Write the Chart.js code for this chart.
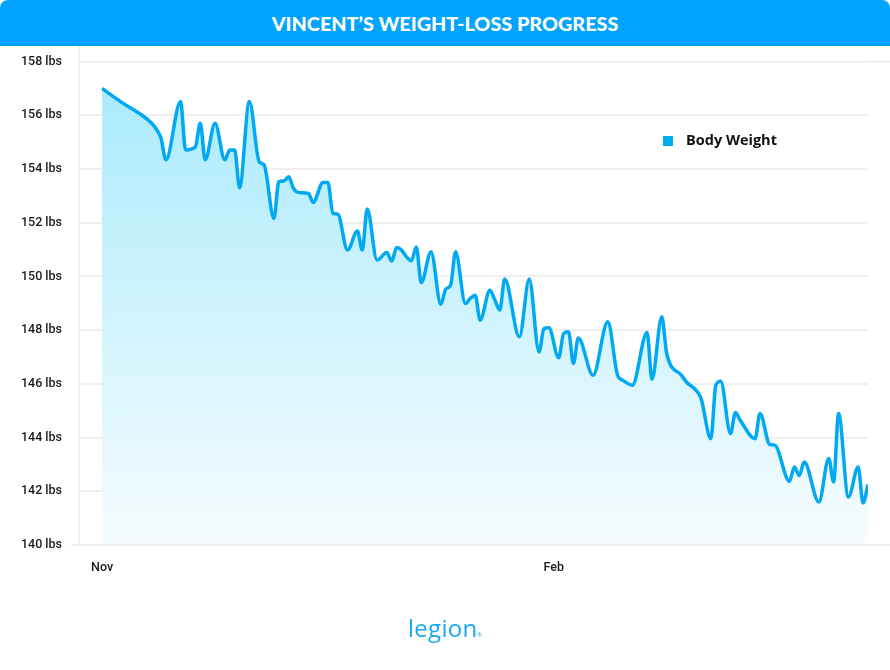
<!DOCTYPE html>
<html>
<head>
    <title>Vincent's Weight-Loss Progress</title>
    <script src="https://cdn.jsdelivr.net/npm/chart.js"></script>
    <style>
        body { margin: 0; background: #fff; }
        #wrap { position: relative; width: 890px; height: 670px; }
        #header {
            position: absolute; left: 0; top: 0; width: 890px; height: 46px;
            background: #00a4fe; border-radius: 8px 8px 0 0;
            color: #fff; font-family: Lato, sans-serif; font-weight: 900;
            font-size: 19.8px; line-height: 46px; text-align: center;
        }
        #logo {
            position: absolute; left: 0; top: 611px; width: 890px; text-align: center;
            font-family: "Open Sans", sans-serif; font-size: 24px; color: #1aa7f2;
            letter-spacing: 0.3px;
        }
        #logo sup { font-size: 5px; vertical-align: 0; }
        canvas { position: absolute; left: 0; top: 0; }
    </style>
</head>
<body>
    <div id="wrap">
        <canvas id="weightChart" width="890" height="670"></canvas>
        <div id="header">VINCENT’S WEIGHT-LOSS PROGRESS</div>
        <div id="logo">legion<sup>®</sup></div>
    </div>

    <script>
        // days since Nov 1 and the weight read for that day
        const days = [0, 4, 8, 10, 11, 12, 13, 16, 17, 19, 20, 21, 23, 25, 26, 27, 28, 30, 32, 33, 35,
            36, 37, 38, 39, 40, 42, 43, 45, 46, 47, 48, 50, 52, 53, 54, 56, 58, 59, 60, 61,
            62, 63, 64, 65, 67, 69, 70, 71, 72, 74, 75, 76, 77, 79, 80, 81, 82, 85, 87, 89,
            90, 91, 93, 94, 95, 96, 97, 100, 103, 105, 106, 108, 111, 112, 114, 115, 118, 119, 121, 122,
            124, 125, 126, 128, 129, 130, 133, 134, 136, 137, 140, 141, 142, 143, 146, 148, 149, 150, 152, 154,
            155, 156];
        const weights = [157.0, 156.48, 156.02, 155.72, 155.5, 155.15, 154.34, 156.51, 154.71, 154.83, 155.7, 154.34, 155.7, 154.34, 154.71, 154.71, 153.3, 156.51, 154.27, 154.15, 152.16,
            153.53, 153.55, 153.71, 153.28, 153.13, 153.09, 152.76, 153.5, 153.5, 152.35, 152.32, 150.98, 151.69, 150.98, 152.51, 150.61, 150.89, 150.57, 151.08, 150.98,
            150.73, 150.58, 151.1, 149.77, 150.92, 148.96, 149.53, 149.68, 150.92, 148.99, 149.18, 149.3, 148.37, 149.49, 149.12, 148.75, 149.9, 147.75, 149.9, 147.19,
            148.06, 148.09, 146.97, 147.87, 147.94, 146.76, 147.71, 146.32, 148.31, 146.32, 146.14, 145.95, 147.91, 146.17, 148.5, 147.13, 146.32, 146.07, 145.76, 145.45,
            143.96, 145.95, 146.1, 144.15, 144.93, 144.64, 143.96, 144.9, 143.74, 143.72, 142.37, 142.9, 142.59, 143.09, 141.6, 143.22, 142.35, 144.9, 141.79, 142.9,
            141.57, 142.25];

        const xTickDays = [0, 92];
        const xTickLabels = ['Nov', 'Feb'];
        const yTicks = [140, 142, 144, 146, 148, 150, 152, 154, 156, 158];
        const seriesName = 'Body Weight';

        const tickFont = { family: 'Roboto', size: 12.5, weight: '500' };

        // legend in the top right, plus the short extensions of the outer lines
        const extras = {
            id: 'extras',
            afterDraw(chart) {
                const ctx = chart.ctx;
                const area = chart.chartArea;
                const y = chart.scales.y;
                ctx.save();
                ctx.strokeStyle = '#efefef';
                ctx.lineWidth = 2;
                ctx.beginPath();
                ctx.moveTo(area.right, y.getPixelForValue(158));
                ctx.lineTo(890, y.getPixelForValue(158));
                ctx.moveTo(71, y.getPixelForValue(140));
                ctx.lineTo(890, y.getPixelForValue(140));
                ctx.stroke();

                ctx.fillStyle = '#00aef0';
                ctx.fillRect(663, 136, 10, 10);
                ctx.fillStyle = '#111';
                ctx.font = 'bold 14.5px "Open Sans"';
                ctx.textBaseline = 'middle';
                ctx.fillText(chart.data.datasets[0].label, 686, 141);
                ctx.restore();
            }
        };

        const ctx = document.getElementById('weightChart').getContext('2d');
        new Chart(ctx, {
            type: 'line',
            data: {
                datasets: [{
                    label: seriesName,
                    data: days.map((d, i) => ({ x: d, y: weights[i] })),
                    borderColor: '#00a9f1',
                    borderWidth: 3.5,
                    pointRadius: 0,
                    cubicInterpolationMode: 'monotone',
                    fill: 'start',
                    backgroundColor: (c) => {
                        const a = c.chart.chartArea;
                        if (!a) return 'rgba(160,232,252,0.6)';
                        const g = c.chart.ctx.createLinearGradient(0, a.top, 0, a.bottom);
                        g.addColorStop(0, '#a4e9fc');
                        g.addColorStop(1, '#f6fcfe');
                        return g;
                    }
                }]
            },
            options: {
                responsive: false,
                animation: false,
                devicePixelRatio: 1,
                layout: { padding: { top: 46, right: 22, left: 0, bottom: 0 } },
                plugins: {
                    legend: { display: false },
                    tooltip: { enabled: false }
                },
                scales: {
                    x: {
                        type: 'linear',
                        min: -4.7,
                        max: 156,
                        afterBuildTicks: (s) => { s.ticks = xTickDays.map(v => ({ value: v })); },
                        afterFit: (s) => { s.height = 125; },
                        grid: { display: false, drawTicks: false },
                        border: { display: false },
                        ticks: {
                            autoSkip: false,
                            maxRotation: 0,
                            padding: 15,
                            color: '#1a1a1a',
                            font: tickFont,
                            callback: (v) => xTickLabels[xTickDays.indexOf(v)]
                        }
                    },
                    y: {
                        min: 140,
                        max: 158.58,
                        afterBuildTicks: (s) => { s.ticks = yTicks.map(v => ({ value: v })); },
                        afterFit: (s) => { s.width = 79; },
                        grid: { color: '#efefef', lineWidth: 2, drawTicks: false },
                        border: { color: '#efefef', width: 2 },
                        ticks: {
                            padding: 17,
                            color: '#1a1a1a',
                            font: tickFont,
                            callback: (v) => v + ' lbs'
                        }
                    }
                }
            },
            plugins: [extras]
        });
    </script>
</body>
</html>
